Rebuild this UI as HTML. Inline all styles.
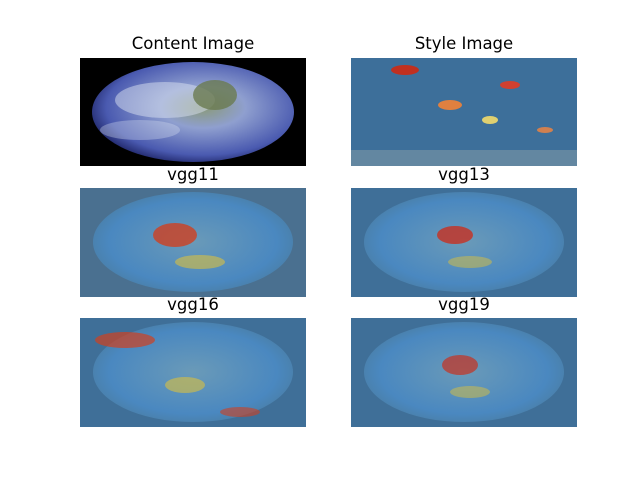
<!DOCTYPE html>
<html><head><meta charset="utf-8"><style>
html,body{margin:0;padding:0;background:#fff;}
svg{display:block;font-family:"DejaVu Sans","Liberation Sans",sans-serif;}
</style></head><body>
<svg width="640" height="480" viewBox="0 0 640 480">
<defs>
<radialGradient id="earth" cx="0.55" cy="0.45" r="0.6">
<stop offset="0" stop-color="#8a9a78"/><stop offset="0.35" stop-color="#8f9fcf"/><stop offset="0.8" stop-color="#4a5ab0"/><stop offset="1" stop-color="#1a2060"/>
</radialGradient>
<radialGradient id="sty" cx="0.5" cy="0.5" r="0.6">
<stop offset="0" stop-color="#6a9ab8"/><stop offset="0.7" stop-color="#4a88c0"/><stop offset="1" stop-color="#4a7a9a"/>
</radialGradient>
</defs>
<text x="193" y="49" text-anchor="middle" font-size="16.5">Content Image</text>
<text x="464" y="49" text-anchor="middle" font-size="16.5">Style Image</text>
<g>
<rect x="80" y="58" width="226" height="108" fill="#000"/>
<ellipse cx="193" cy="112" rx="101" ry="50" fill="url(#earth)"/>
<ellipse cx="165" cy="100" rx="50" ry="18" fill="#d8e0f0" opacity="0.5"/>
<ellipse cx="140" cy="130" rx="40" ry="10" fill="#d8e0f0" opacity="0.35"/>
<ellipse cx="215" cy="95" rx="22" ry="15" fill="#6a7a50" opacity="0.8"/>
</g>
<g>
<rect x="351" y="58" width="226" height="108" fill="#3d6f9a"/>
<rect x="351" y="150" width="226" height="16" fill="#8aa0a8" opacity="0.5"/>
<ellipse cx="405" cy="70" rx="14" ry="5" fill="#c03020"/>
<ellipse cx="450" cy="105" rx="12" ry="5" fill="#e08040"/>
<ellipse cx="510" cy="85" rx="10" ry="4" fill="#d04030"/>
<ellipse cx="490" cy="120" rx="8" ry="4" fill="#e0d070"/>
<ellipse cx="545" cy="130" rx="8" ry="3" fill="#d08050"/>
</g>
<text x="193" y="180" text-anchor="middle" font-size="16.5">vgg11</text>
<text x="464" y="180" text-anchor="middle" font-size="16.5">vgg13</text>
<text x="193" y="310" text-anchor="middle" font-size="16.5">vgg16</text>
<text x="464" y="310" text-anchor="middle" font-size="16.5">vgg19</text>
<g>
<rect x="80" y="188" width="226" height="109" fill="#4a7090"/>
<ellipse cx="193" cy="242" rx="100" ry="50" fill="url(#sty)"/>
<ellipse cx="175" cy="235" rx="22" ry="12" fill="#d04020" opacity="0.8"/>
<ellipse cx="200" cy="262" rx="25" ry="7" fill="#d8c040" opacity="0.6"/>
</g>
<g>
<rect x="351" y="188" width="226" height="109" fill="#3f6f98"/>
<ellipse cx="464" cy="242" rx="100" ry="50" fill="url(#sty)"/>
<ellipse cx="455" cy="235" rx="18" ry="9" fill="#c83020" opacity="0.8"/>
<ellipse cx="470" cy="262" rx="22" ry="6" fill="#d8c040" opacity="0.5"/>
</g>
<g>
<rect x="80" y="318" width="226" height="109" fill="#3f6f98"/>
<ellipse cx="193" cy="372" rx="100" ry="50" fill="url(#sty)"/>
<ellipse cx="125" cy="340" rx="30" ry="8" fill="#d04020" opacity="0.7"/>
<ellipse cx="185" cy="385" rx="20" ry="8" fill="#d8c040" opacity="0.6"/>
<ellipse cx="240" cy="412" rx="20" ry="5" fill="#d04020" opacity="0.6"/>
</g>
<g>
<rect x="351" y="318" width="226" height="109" fill="#3f6f98"/>
<ellipse cx="464" cy="372" rx="100" ry="50" fill="url(#sty)"/>
<ellipse cx="460" cy="365" rx="18" ry="10" fill="#c83020" opacity="0.7"/>
<ellipse cx="470" cy="392" rx="20" ry="6" fill="#d8c040" opacity="0.5"/>
</g>
</svg>
</body></html>
